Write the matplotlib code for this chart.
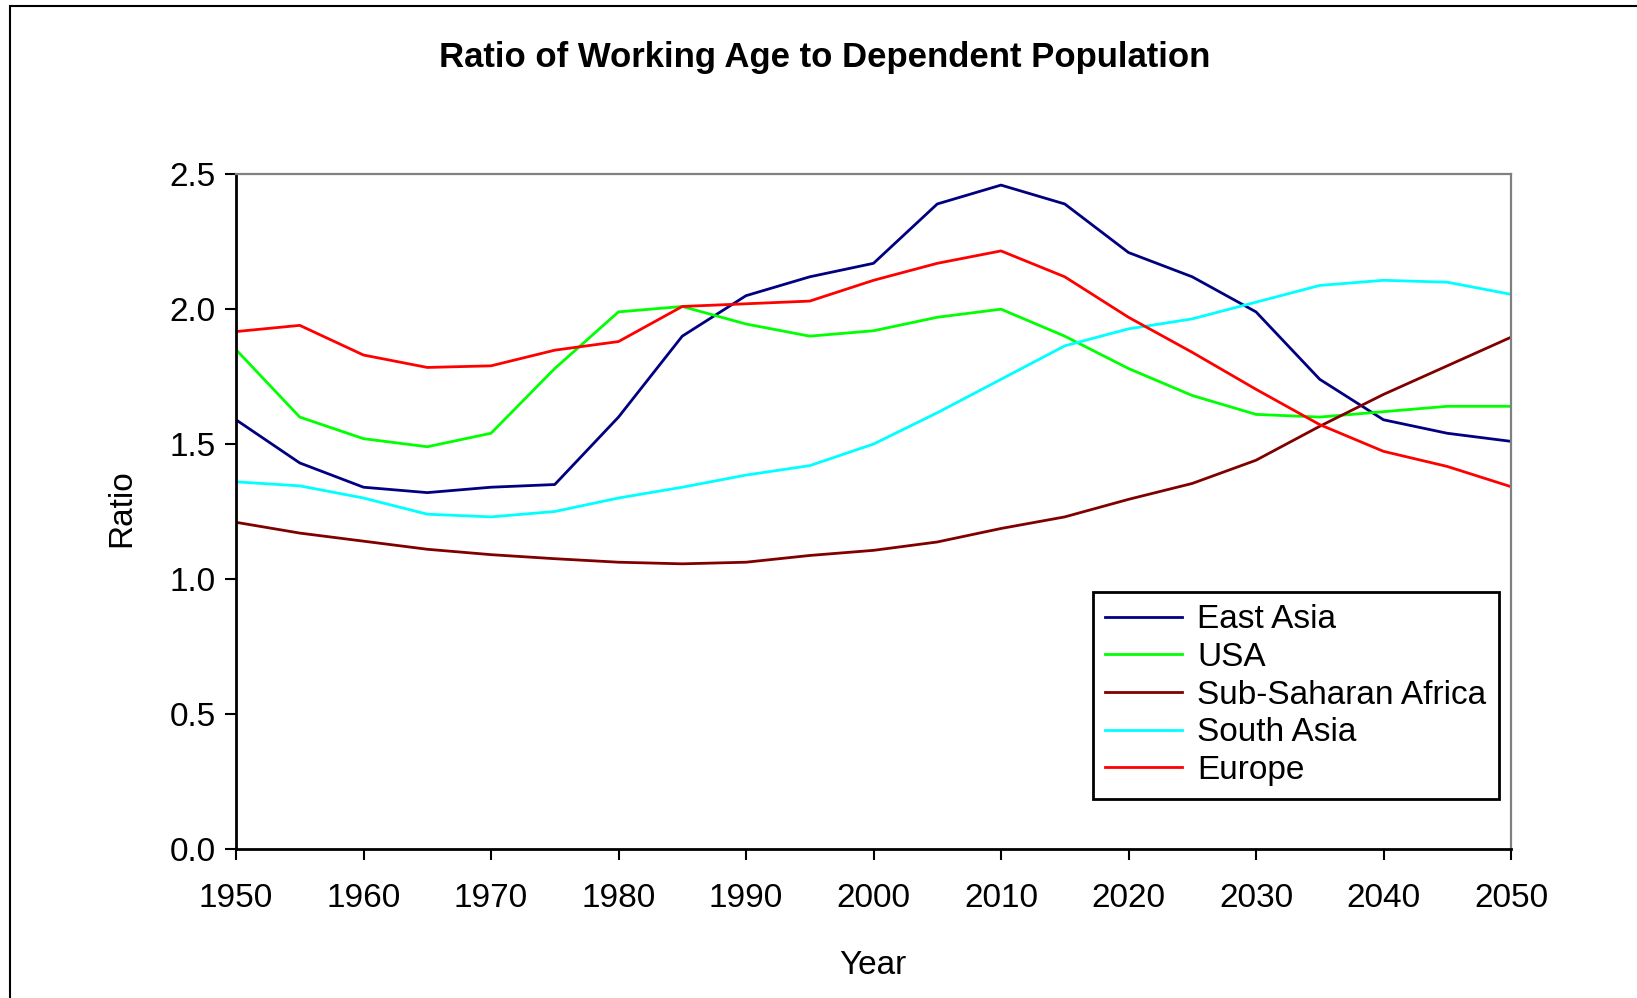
import matplotlib
matplotlib.use("Agg")
import matplotlib.pyplot as plt
from matplotlib.patches import Rectangle

plt.rcParams['font.family'] = ['Liberation Sans', 'DejaVu Sans']

# years every 5 years, 1950-2050
years = list(range(1950, 2051, 5))

# values
east_asia = [1.59, 1.43, 1.34, 1.32, 1.34, 1.35, 1.60, 1.90, 2.05, 2.12,
             2.17, 2.39, 2.46, 2.39, 2.21, 2.12, 1.99, 1.74, 1.59, 1.54, 1.51]
usa = [1.85, 1.60, 1.52, 1.49, 1.54, 1.78, 1.99, 2.01, 1.945, 1.90,
       1.92, 1.97, 2.00, 1.90, 1.78, 1.68, 1.61, 1.60, 1.62, 1.64, 1.64]
ssa = [1.21, 1.17, 1.14, 1.11, 1.09, 1.075, 1.062, 1.056, 1.062, 1.087,
       1.106, 1.137, 1.187, 1.23, 1.295, 1.354, 1.44, 1.566, 1.684, 1.79, 1.896]
south_asia = [1.36, 1.345, 1.30, 1.24, 1.23, 1.25, 1.30, 1.34, 1.385, 1.42,
              1.50, 1.616, 1.74, 1.864, 1.927, 1.964, 2.026, 2.088, 2.107, 2.10, 2.055]
europe = [1.917, 1.94, 1.83, 1.784, 1.79, 1.848, 1.88, 2.01, 2.02, 2.03,
          2.107, 2.17, 2.216, 2.12, 1.97, 1.84, 1.703, 1.572, 1.473, 1.417, 1.342]

series = [("East Asia", east_asia, "#000080"),
          ("USA", usa, "#00FF00"),
          ("Sub-Saharan Africa", ssa, "#800000"),
          ("South Asia", south_asia, "#00FFFF"),
          ("Europe", europe, "#FF0000")]

W, H = 1637, 998
fig = plt.figure(figsize=(W / 100, H / 100), dpi=100)
ax = fig.add_axes([236 / W, 1 - 848.7 / H, (1511 - 236) / W, (848.7 - 174.3) / H])

for name, vals, col in series:
    ax.plot(years, vals, color=col, lw=2, label=name)

ax.set_xlim(1950, 2050)
ax.set_ylim(0, 2.5)
ax.set_xticks(range(1950, 2051, 10))
ax.set_yticks([0, 0.5, 1.0, 1.5, 2.0, 2.5])
ax.set_yticklabels(["0.0", "0.5", "1.0", "1.5", "2.0", "2.5"])
ax.tick_params(axis='both', direction='out', length=7.7, width=1.5,
               labelsize=24, color='black')
ax.tick_params(axis='x', pad=17)
ax.tick_params(axis='y', pad=7)

for s in ['left', 'bottom']:
    ax.spines[s].set_color('black')
    ax.spines[s].set_linewidth(2)
for s in ['top', 'right']:
    ax.spines[s].set_color('#808080')
    ax.spines[s].set_linewidth(1.6)

leg = ax.legend(loc='upper left', bbox_to_anchor=(0.672, 0.381),
                fontsize=24, frameon=True, fancybox=False, framealpha=1,
                edgecolor='black', handlelength=2.3, handletextpad=0.45,
                labelspacing=0.2, borderpad=0.38, borderaxespad=0)
leg.get_frame().set_linewidth(2)

fig.text(825 / W, 1 - 57 / H, "Ratio of Working Age to Dependent Population",
         fontsize=25, fontweight='bold', ha='center', va='center')
fig.text(122 / W, 1 - 508 / H, "Ratio", fontsize=24, rotation=90,
         ha='center', va='center')
fig.text(873 / W, 1 - 966 / H, "Year", fontsize=24, ha='center', va='center')

# outer chart border (clipped on the right and bottom)
fig.add_artist(Rectangle((10 / W, -0.1), 1.2, 1 - 6 / H + 0.1,
                         transform=fig.transFigure, fill=False,
                         ec='black', lw=1.5))

fig.savefig("out.png", dpi=100)
